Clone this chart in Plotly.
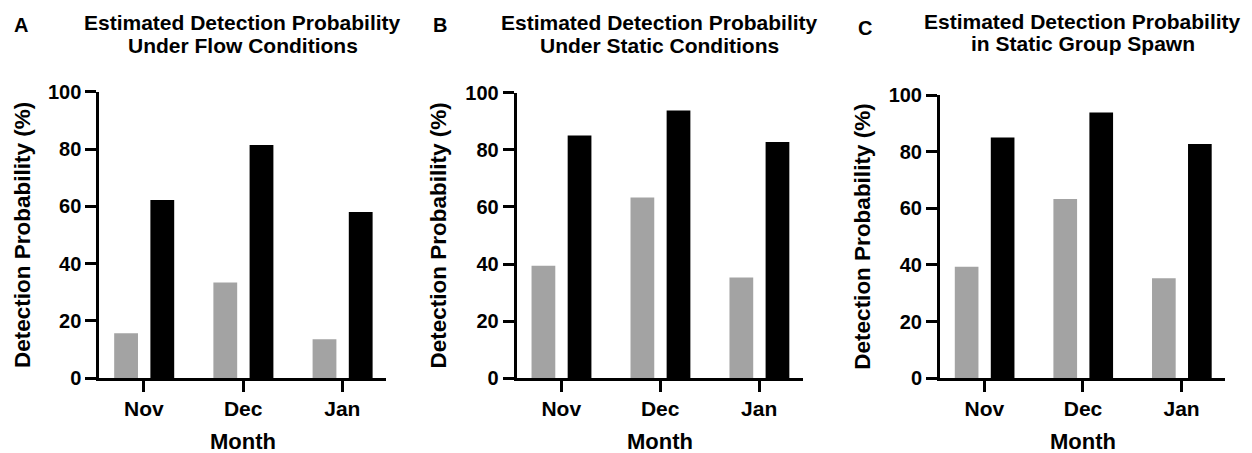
import plotly.graph_objects as go
from plotly.subplots import make_subplots

months = ["Nov", "Dec", "Jan"]
flow_gray = [15.7, 33.4, 13.6]
flow_black = [62.2, 81.4, 58.0]
static_gray = [39.4, 63.3, 35.3]
static_black = [85.0, 93.8, 82.7]
spawn_gray = [39.4, 63.3, 35.3]
spawn_black = [85.0, 93.8, 82.7]

titles = [("Estimated Detection Probability", "Under Flow Conditions"),
          ("Estimated Detection Probability", "Under Static Conditions"),
          ("Estimated Detection Probability", "in Static Group Spawn")]
letters = ["A", "B", "C"]
y_title = "Detection Probability (%)"
x_title = "Month"
y_ticks = [0, 20, 40, 60, 80, 100]

# page is offset by the default 8px body margin
OFF = 8
W, H = 1252 - OFF, 453 - OFF
FONT = "Liberation Sans, Arial, sans-serif"
GRAY = "#a3a3a3"


def fx(px):
    return (px - OFF) / W


def fy(py):
    return 1 - (py - OFF) / H


fig = make_subplots(rows=1, cols=3)

series = [(flow_gray, flow_black), (static_gray, static_black), (spawn_gray, spawn_black)]
for i, (g, b) in enumerate(series):
    fig.add_trace(go.Bar(x=months, y=g, marker=dict(color=GRAY, line=dict(width=0)),
                         width=0.24, offset=-0.30, showlegend=False), row=1, col=i + 1)
    fig.add_trace(go.Bar(x=months, y=b, marker=dict(color="black", line=dict(width=0)),
                         width=0.24, offset=0.065, showlegend=False), row=1, col=i + 1)

# pixel layout (page coordinates)
x_dom_px = [(99.3, 386.0), (516.7, 802.7), (940.0, 1225.0)]
y_top_px = [91.7, 92.7, 95.0]
y_bot_px = 378.3

axis_common = dict(showline=True, linecolor="black", linewidth=3, ticks="outside",
                   ticklen=11, tickwidth=3, tickcolor="black", showgrid=False,
                   zeroline=False, automargin=False)
for i in range(3):
    xd = (fx(x_dom_px[i][0]), fx(x_dom_px[i][1]))
    yd = (fy(y_bot_px), fy(y_top_px[i]))
    fig.update_xaxes(domain=list(xd), range=[-0.45, 2.44], type="category",
                     tickfont=dict(family=FONT, size=21, color="black", weight="bold"),
                     ticklabelstandoff=-2,
                     **axis_common, row=1, col=i + 1)
    fig.update_yaxes(domain=list(yd), range=[0, 100], tickvals=y_ticks,
                     tickfont=dict(family=FONT, size=20, color="black", weight="bold"),
                     **axis_common, row=1, col=i + 1)

annotations = []
ytitle_x = [22, 438, 863]
letter_pos = [(20.5, 25.3), (440, 25.3), (865, 28)]
title_y = [(23, 45.5), (23, 45.5), (21, 43.5)]
for i in range(3):
    cx = (x_dom_px[i][0] + x_dom_px[i][1]) / 2
    for j in range(2):
        annotations.append(dict(text="<b>" + titles[i][j] + "</b>", x=fx(cx),
                                y=fy(title_y[i][j]),
                                xref="paper", yref="paper", showarrow=False,
                                xanchor="center", yanchor="middle",
                                font=dict(family=FONT, size=21, color="black")))
    annotations.append(dict(text="<b>" + letters[i] + "</b>", x=fx(letter_pos[i][0]),
                            y=fy(letter_pos[i][1]), xref="paper", yref="paper",
                            showarrow=False, xanchor="center", yanchor="middle",
                            font=dict(family=FONT, size=20, color="black")))
    annotations.append(dict(text="<b>" + y_title + "</b>", x=fx(ytitle_x[i]),
                            y=fy((y_top_px[i] + y_bot_px) / 2), xref="paper",
                            yref="paper", showarrow=False, textangle=-90,
                            xanchor="center", yanchor="middle",
                            font=dict(family=FONT, size=22.5, color="black")))
    annotations.append(dict(text="<b>" + x_title + "</b>", x=fx(cx), y=fy(441),
                            xref="paper", yref="paper", showarrow=False,
                            xanchor="center", yanchor="middle",
                            font=dict(family=FONT, size=22, color="black")))

fig.update_layout(width=W, height=H, margin=dict(l=0, r=0, t=0, b=0),
                  plot_bgcolor="white", paper_bgcolor="white", barmode="overlay",
                  annotations=annotations, font=dict(family=FONT, color="black"))

fig.write_html("out.html")
